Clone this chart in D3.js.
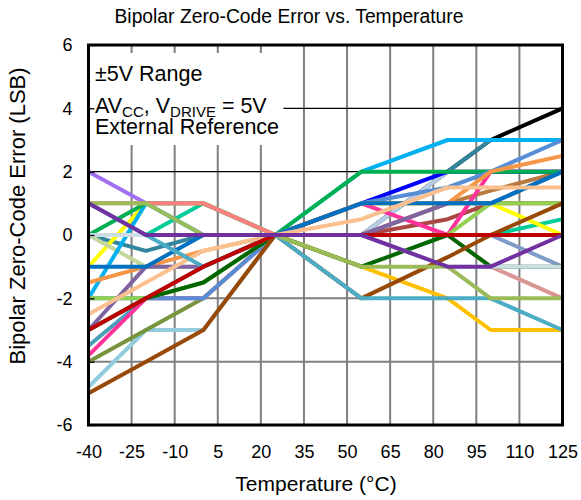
<!DOCTYPE html>
<html>
<head>
<meta charset="utf-8">
<script src="https://cdn.jsdelivr.net/npm/d3@7"></script>
<style>
  body { margin: 0; background: #fff; }
  text { font-family: Arial, "Liberation Sans", sans-serif; fill: #000; }
</style>
</head>
<body>
<div id="chart"></div>
<script>
// temperatures where each part was measured
const temps = [-40, -20, 0, 25, 55, 85, 100, 125];
const xTicks = [-40, -25, -10, 5, 20, 35, 50, 65, 80, 95, 110, 125];
const yTicks = [-6, -4, -2, 0, 2, 4, 6];

// zero-code error (LSB) per part, one value per temperature
const black      = [0, 0, 0, 0, 0, 2, 3, 4];
const teal       = [0, -0.5, 0, 0, 0, 2, 3, 3];
const paleSteel  = [0, 0, 0, 0, 0, 2, 2, 2];
const tan        = [0, 0, 0, 0, 0, 1, 1.4, 2];
const brick      = [0, 0, 0, 0, 0, 0.5, 1, 1];
const slateBlue  = [0, 0, 0, 0, 0, 0, 0, -1];
const dustyRose  = [0, 0, 0, 0, 0, 0, -1, -2];
const seaGreen   = [0, 0, 1, 0, 0, 0, 0, 0.5];
const gold       = [0, 0, 0, 0, -1, -2, -3, -3];
const lavender   = [2, 1, 1, 0, 0, 0, 0, 0];
const yellow     = [-1, 1, 1, 0, 1, 1, 1, 0];
const sage       = [0, -1, -1, 0, 0, 0, 0, 0];
const lightBlue  = [-4.8, -3, -3, 0, 0, 0, 0, 0];
const oliveDark  = [-4, -3, -2, 0, 0, 0, 0, 0];
const steelTeal  = [-3.5, -2, -1, 0, 0, 0, 0, 0];
const skyBlue    = [-2, 1, 0, 0, 2, 3, 3, 3];
const pink       = [-3.8, -2, -2, 0, 1, 0, 2, 2];
const blue       = [0, 0, 0, 0, 1, 2, 2, 2];
const green      = [0, 1, 1, 0, 2, 2, 2, 2];
const salmon     = [1, 1, 1, 0, 0, 0, 0, 0];
const cornflower = [-2, -2, -2, 0, 1, 1.5, 2, 3];
const lightGreen = [-2, -2, -1.5, 0, 0, 0, 1, 1];
const darkGreen  = [-3, -2, -1.5, 0, -1, 0, -1, -1];
const orange     = [-1.5, -1, -0.5, 0, 1, 1, 2, 2.5];
const purpleGray = [-3, -1, -1, 0, 0, 1, 1, 2];
const darkBlue   = [-1, -1, 0, 0, 1, 1, 1, 2];
const peach      = [-2.5, -1.5, -0.5, 0, 0.5, 1.5, 1.5, 1.5];
const paleGray   = [0, 0, 0, 0, 0, -1, -1, -1];
const brown      = [-5, -4, -3, 0, -2, -0.7, 0, 1];
const lightTeal  = [1, 0, -1, 0, -2, -2, -2, -3];
const red        = [-3, -2, -1, 0, 0, 0, 0, 0];
const olive      = [1, 1, 0, 0, -1, -1, -2, -2];
const purple     = [1, 0, 0, 0, 0, -1, -1, 0];

// drawing order: first is at the bottom
const series = [
  { values: black, color: "#000000" },
  { values: teal, color: "#31859C" },
  { values: paleSteel, color: "#B9CDE5" },
  { values: tan, color: "#B9783F" },
  { values: brick, color: "#AA4643" },
  { values: slateBlue, color: "#7F9BC8" },
  { values: dustyRose, color: "#D99694" },
  { values: seaGreen, color: "#00CC99" },
  { values: gold, color: "#FFC000" },
  { values: lavender, color: "#A070F0" },
  { values: yellow, color: "#FFFF00" },
  { values: sage, color: "#C3D69B" },
  { values: lightBlue, color: "#93CDDD" },
  { values: oliveDark, color: "#77933C" },
  { values: steelTeal, color: "#4A9FB8" },
  { values: skyBlue, color: "#00B0F0" },
  { values: pink, color: "#FF3399" },
  { values: blue, color: "#0000FF" },
  { values: green, color: "#00B050" },
  { values: salmon, color: "#FF8080" },
  { values: cornflower, color: "#558ED5" },
  { values: lightGreen, color: "#92D050" },
  { values: darkGreen, color: "#006600" },
  { values: orange, color: "#F79646" },
  { values: purpleGray, color: "#8064A2" },
  { values: darkBlue, color: "#0070C0" },
  { values: peach, color: "#FAC090" },
  { values: paleGray, color: "#CCDDE4" },
  { values: brown, color: "#984807" },
  { values: lightTeal, color: "#4BACC6" },
  { values: red, color: "#C00000" },
  { values: olive, color: "#9BBB59" },
  { values: purple, color: "#7030A0" }
];

const width = 581;
const height = 500;
const margin = { top: 45, right: 18.5, bottom: 75, left: 88.5 };

const svg = d3.select("#chart")
  .append("svg")
  .attr("width", width)
  .attr("height", height);

const x = d3.scaleLinear()
  .domain([-40, 125])
  .range([margin.left, width - margin.right]);

const y = d3.scaleLinear()
  .domain([-6, 6])
  .range([height - margin.bottom, margin.top]);

// grid
svg.append("g")
  .selectAll("line")
  .data(xTicks.slice(1, -1))
  .join("line")
  .attr("x1", d => x(d)).attr("x2", d => x(d))
  .attr("y1", y(6)).attr("y2", y(-6))
  .attr("stroke", "#7f7f7f")
  .attr("stroke-width", 2);

svg.append("g")
  .selectAll("line")
  .data(yTicks.slice(1, -1))
  .join("line")
  .attr("x1", x(-40)).attr("x2", x(125))
  .attr("y1", d => y(d)).attr("y2", d => y(d))
  .attr("stroke", d => d > 0 ? "#000" : "#7f7f7f")
  .attr("stroke-width", d => d > 0 ? 1.3 : 2);

// data lines
const line = d3.line()
  .x((d, i) => x(temps[i]))
  .y(d => y(d));

svg.append("g")
  .selectAll("path")
  .data(series)
  .join("path")
  .attr("d", d => line(d.values))
  .attr("fill", "none")
  .attr("stroke", d => d.color)
  .attr("stroke-width", 4)
  .attr("stroke-linejoin", "round");

// note box
svg.append("rect")
  .attr("x", x(-40) + 2)
  .attr("y", 53)
  .attr("width", 193)
  .attr("height", 92)
  .attr("fill", "#fff");

const note = svg.append("g").attr("font-size", 21.5);
note.append("text").attr("x", 95).attr("y", 81).text("±5V Range");
const t2 = note.append("text").attr("x", 95).attr("y", 113);
t2.append("tspan").text("AV");
t2.append("tspan").attr("font-size", 15).attr("dy", 4).text("CC");
t2.append("tspan").attr("dy", -4).text(", V");
t2.append("tspan").attr("font-size", 15).attr("dy", 4).text("DRIVE");
t2.append("tspan").attr("dy", -4).text(" = 5V");
note.append("text").attr("x", 95).attr("y", 134).text("External Reference");

// frame
svg.append("rect")
  .attr("x", x(-40))
  .attr("y", y(6))
  .attr("width", x(125) - x(-40))
  .attr("height", y(-6) - y(6))
  .attr("fill", "none")
  .attr("stroke", "#000")
  .attr("stroke-width", 3);

// axes (plain hyphen for negatives, as in the reference)
const fmt = d => String(d);

const xAxis = d3.axisBottom(x).tickValues(xTicks).tickFormat(fmt).tickSize(0).tickPadding(20);
svg.append("g")
  .attr("transform", `translate(0,${y(-6)})`)
  .call(xAxis)
  .call(g => g.select(".domain").remove())
  .call(g => g.selectAll("text").attr("font-size", 18).attr("font-family", "Arial, 'Liberation Sans', sans-serif").attr("fill", "#000"));

const yAxis = d3.axisLeft(y).tickValues(yTicks).tickFormat(fmt).tickSize(-6).tickPadding(16);
svg.append("g")
  .attr("transform", `translate(${x(-40)},0)`)
  .call(yAxis)
  .call(g => g.select(".domain").remove())
  .call(g => g.selectAll("line").attr("stroke", "#000").attr("stroke-width", 1.3))
  .call(g => g.selectAll("text").attr("font-size", 18).attr("font-family", "Arial, 'Liberation Sans', sans-serif").attr("fill", "#000"));

// titles
svg.append("text")
  .attr("x", 289)
  .attr("y", 23)
  .attr("text-anchor", "middle")
  .attr("font-size", 19.3)
  .text("Bipolar Zero-Code Error vs. Temperature");

svg.append("text")
  .attr("x", 316)
  .attr("y", 491)
  .attr("text-anchor", "middle")
  .attr("font-size", 21)
  .text("Temperature (°C)");

svg.append("text")
  .attr("transform", `translate(25,216) rotate(-90)`)
  .attr("text-anchor", "middle")
  .attr("font-size", 22)
  .text("Bipolar Zero-Code Error (LSB)");
</script>
</body>
</html>
